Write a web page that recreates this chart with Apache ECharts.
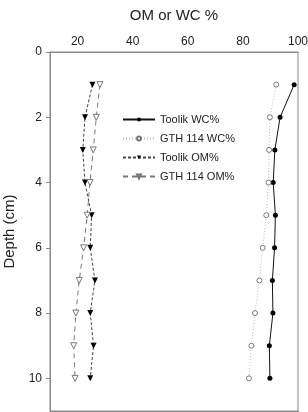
<!DOCTYPE html>
<html>
<head>
<meta charset="utf-8">
<script src="https://cdn.jsdelivr.net/npm/echarts@6/dist/echarts.min.js"></script>
<style>
  html, body { margin: 0; padding: 0; background: #fff; }
  #chart { width: 308px; height: 412px; }
</style>
</head>
<body>
<div id="chart"></div>
<script>
// 深度 (cm)
var depth = [1, 2, 3, 4, 5, 6, 7, 8, 9, 10];
// 各序列数值 (%)
var toolikWC = [98.6, 93.5, 91.6, 91.0, 91.8, 91.5, 90.7, 90.9, 89.6, 89.8];
var gthWC = [92.1, 89.8, 89.5, 89.3, 88.5, 87.2, 86.0, 84.4, 83.1, 82.2];
var toolikOM = [25.4, 22.7, 21.9, 22.7, 25.1, 24.6, 26.3, 24.6, 25.8, 24.6];
var gthOM = [28.1, 26.8, 25.7, 24.5, 23.5, 22.2, 20.6, 19.4, 18.6, 19.1];
var seriesNames = ['Toolik WC%', 'GTH 114 WC%', 'Toolik OM%', 'GTH 114 OM%'];
var xTicks = [20, 40, 60, 80, 100];
var yTicks = [0, 2, 4, 6, 8, 10];

var myChart = echarts.init(document.getElementById('chart'));

// 把数值和深度组合成 [x, y]
function pairs (vals) {
	return vals.map(function (v, i) { return [v, depth[i]]; });
}

var font = 'Liberation Sans, Arial, sans-serif';

var option = {
	animation: false,
	textStyle: { fontFamily: font },
	grid: {
		left: 50,
		right: 10,
		top: 52,
		bottom: 1,
		outerBoundsMode: 'none',
		containLabel: false,
		show: true,
		borderColor: '#888',
		borderWidth: 1
	},
	legend: {
		orient: 'vertical',
		left: 117,
		top: 109,
		itemWidth: 32,
		itemHeight: 5,
		itemGap: 8,
		data: seriesNames,
		textStyle: { fontSize: 11, color: '#222', fontFamily: font }
	},
	xAxis: [{
		type: 'value',
		position: 'top',
		min: 10,
		max: 100,
		name: 'OM or WC %',
		nameLocation: 'middle',
		nameGap: 29,
		nameTextStyle: { fontSize: 15, color: '#222' },
		axisLine: { show: true, lineStyle: { color: '#888' } },
		axisTick: { show: false },
		splitLine: { show: false },
		axisLabel: {
			customValues: xTicks,
			fontSize: 12,
			color: '#222',
			margin: 4
		}
	}, {
		// 底部只画刻度线
		type: 'value',
		position: 'bottom',
		min: 10,
		max: 100,
		axisLine: { show: true, lineStyle: { color: '#888' } },
		axisTick: { show: true, length: 4, customValues: xTicks, lineStyle: { color: '#888' } },
		axisLabel: { show: false },
		splitLine: { show: false }
	}],
	yAxis: {
		type: 'value',
		inverse: true,
		min: 0,
		max: 11,
		name: 'Depth (cm)',
		nameLocation: 'middle',
		nameGap: 30,
		nameTextStyle: { fontSize: 15, color: '#222' },
		axisLine: { show: true, lineStyle: { color: '#888' } },
		axisTick: { show: true, length: 4, customValues: yTicks, lineStyle: { color: '#888' } },
		splitLine: { show: false },
		axisLabel: {
			customValues: yTicks,
			fontSize: 12,
			color: '#222',
			margin: 8
		}
	},
	series: [
		{
			name: seriesNames[0],
			type: 'line',
			data: pairs(toolikWC),
			symbol: 'circle',
			symbolSize: 5,
			lineStyle: { color: '#111', width: 1 },
			itemStyle: { color: '#000' }
		},
		{
			name: seriesNames[1],
			type: 'line',
			data: pairs(gthWC),
			symbol: 'circle',
			symbolSize: 5,
			lineStyle: { color: '#bbb', width: 1, type: [1, 2] },
			itemStyle: { color: '#fff', borderColor: '#777', borderWidth: 1 }
		},
		{
			name: seriesNames[2],
			type: 'line',
			data: pairs(toolikOM),
			symbol: 'triangle',
			symbolRotate: 180,
			symbolSize: 6,
			lineStyle: { color: '#444', width: 1, type: [3, 2] },
			itemStyle: { color: '#000' }
		},
		{
			name: seriesNames[3],
			type: 'line',
			data: pairs(gthOM),
			symbol: 'triangle',
			symbolRotate: 180,
			symbolSize: 6,
			lineStyle: { color: '#777', width: 1, type: [5, 4] },
			itemStyle: { color: '#fff', borderColor: '#777', borderWidth: 1 }
		}
	]
};

myChart.setOption(option);
</script>
</body>
</html>
